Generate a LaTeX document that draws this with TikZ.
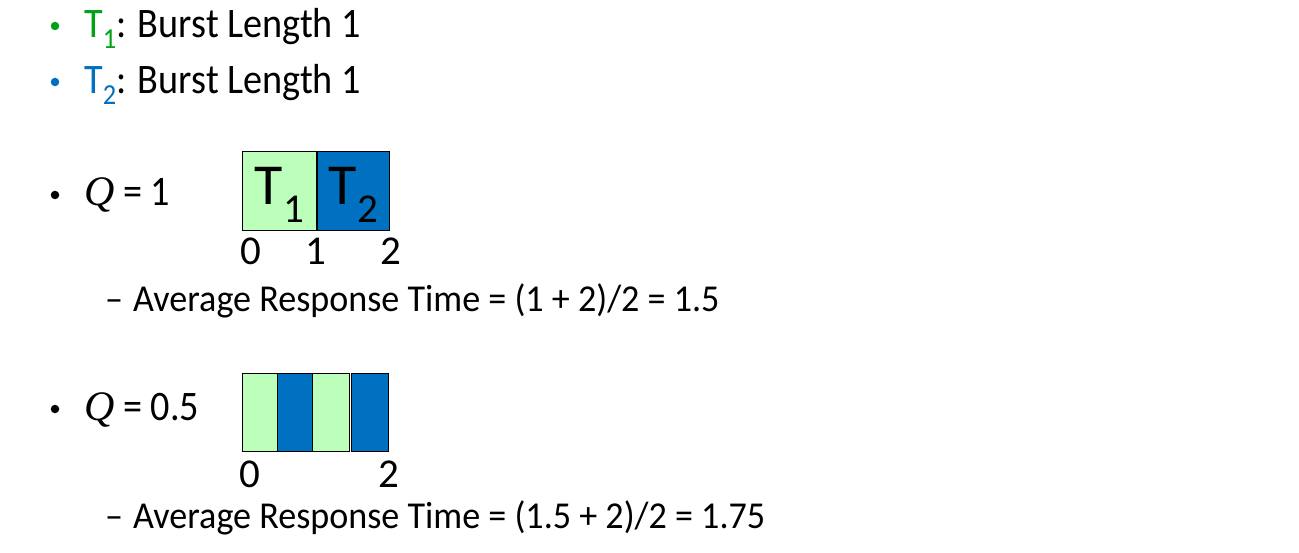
\documentclass[tikz,border=0pt]{standalone}
\usepackage{fontspec}
\setmainfont{Carlito}
\newfontfamily\narrowA{Carlito}[FakeStretch=0.91]
\newfontfamily\narrowB{Carlito}[FakeStretch=0.95]
\newfontfamily\qfont{Liberation Serif}
\newcommand{\qq}{{\qfont\itshape Q}}
\definecolor{tgreen}{HTML}{00A318}
\definecolor{tblue}{HTML}{0070C0}
\definecolor{lgreen}{HTML}{BBFFBB}
\definecolor{dblue}{HTML}{0070C0}
\tikzset{
  txt/.style={anchor=base west, inner sep=0pt, font=\narrowA\fontsize{42}{48}\selectfont},
  subtxt/.style={anchor=base west, inner sep=0pt, font=\narrowB\fontsize{38}{44}\selectfont},
  axis/.style={anchor=base, inner sep=0pt, font=\fontsize{41}{46}\selectfont},
  bul/.style={circle, inner sep=0pt, minimum size=8.5pt},
  gbox/.style={draw=black, line width=0.8pt, fill=lgreen, inner sep=0pt},
  bbox/.style={draw=black, line width=0.8pt, fill=dblue, inner sep=0pt},
  blab/.style={inner sep=0pt, font=\fontsize{58}{64}\selectfont, text=black},
}
\begin{document}
\begin{tikzpicture}[x=1pt,y=-1pt]
\useasboundingbox[fill=white] (0,0) rectangle (1299,553);
% bullets
\node[bul, fill=tgreen] (b1) at (55,26) {};
\node[bul, fill=tblue] (b2) at (55,82) {};
\node[bul, fill=black] (b3) at (55,195) {};
\node[bul, fill=black] (b4) at (55,409) {};
% header lines
\node[txt] (l1) at (84,38) {\textcolor{tgreen}{T\raisebox{-0.25em}{\fontsize{29}{32}\selectfont 1}}: Burst Length 1};
\node[txt] (l2) at (84,94) {\textcolor{tblue}{T\raisebox{-0.25em}{\fontsize{29}{32}\selectfont 2}}: Burst Length 1};
% Q = 1
\node[txt] (q1) at (84,206) {\qq{} = 1};
\node[gbox, minimum width=74pt, minimum height=79pt, anchor=north west] (t1) at (242,151) {};
\node[bbox, minimum width=72pt, minimum height=79pt, anchor=north west] (t2) at (317,151) {};
\node[blab] at ([yshift=-4pt]t1.center) {T\raisebox{-0.3em}{\fontsize{41}{46}\selectfont 1}};
\node[blab] at ([yshift=-4pt]t2.center) {T\raisebox{-0.3em}{\fontsize{41}{46}\selectfont 2}};
\node[axis] (a0) at (251,265) {0};
\node[axis] (a1) at (316,265) {1};
\node[axis] (a2) at (391,265) {2};
\node[subtxt] (r1) at (105,312) {–\hspace{10pt}Average Response Time = (1 + 2)/2 = 1.5};
% Q = 0.5
\node[txt] (q2) at (84,420) {\qq{} = 0.5};
\node[gbox, minimum width=35.5pt, minimum height=78pt, anchor=north west] (s1) at (241.5,373) {};
\node[bbox, minimum width=34.5pt, minimum height=78pt, anchor=north west] (s2) at (277.3,373) {};
\node[gbox, minimum width=37pt, minimum height=78pt, anchor=north west] (s3) at (312.2,373) {};
\node[bbox, minimum width=37pt, minimum height=78pt, anchor=north west] (s4) at (350.5,373) {};
\node[axis] (c0) at (250,487) {0};
\node[axis] (c2) at (389,487) {2};
\node[subtxt] (r2) at (105,528) {–\hspace{10pt}Average Response Time = (1.5 + 2)/2 = 1.75};
\end{tikzpicture}
\end{document}
